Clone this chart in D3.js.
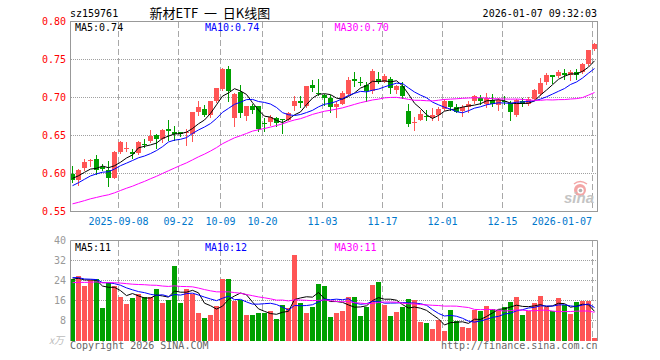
<!DOCTYPE html>
<html><head><meta charset="utf-8">
<script src="https://cdn.jsdelivr.net/npm/d3@7/dist/d3.min.js"></script>
<style>body{margin:0;background:#fff}svg{display:block}</style>
</head><body>
<svg id="chart" width="660" height="360"></svg>
<script>
// ---------- data ----------
const dates = [
"2025-08-27","2025-08-28","2025-08-29","2025-09-01","2025-09-02","2025-09-03","2025-09-04","2025-09-05",
"2025-09-08","2025-09-09","2025-09-10","2025-09-11","2025-09-12",
"2025-09-15","2025-09-16","2025-09-17","2025-09-18","2025-09-19",
"2025-09-22","2025-09-23","2025-09-24","2025-09-25","2025-09-26",
"2025-09-29","2025-09-30","2025-10-09","2025-10-10",
"2025-10-13","2025-10-14","2025-10-15","2025-10-16","2025-10-17",
"2025-10-20","2025-10-21","2025-10-22","2025-10-23","2025-10-24",
"2025-10-27","2025-10-28","2025-10-29","2025-10-30","2025-10-31",
"2025-11-03","2025-11-04","2025-11-05","2025-11-06","2025-11-07",
"2025-11-10","2025-11-11","2025-11-12","2025-11-13","2025-11-14",
"2025-11-17","2025-11-18","2025-11-19","2025-11-20","2025-11-21",
"2025-11-24","2025-11-25","2025-11-26","2025-11-27","2025-11-28",
"2025-12-01","2025-12-02","2025-12-03","2025-12-04","2025-12-05",
"2025-12-08","2025-12-09","2025-12-10","2025-12-11","2025-12-12",
"2025-12-15","2025-12-16","2025-12-17","2025-12-18","2025-12-19",
"2025-12-22","2025-12-23","2025-12-24","2025-12-25","2025-12-26",
"2025-12-29","2025-12-30","2025-12-31","2026-01-05","2026-01-06","2026-01-07"];

const open = [0.600,0.591,0.607,0.616,0.619,0.609,0.605,0.594,0.628,0.632,
0.628,0.627,0.639,0.643,0.651,0.646,0.659,0.654,0.654,0.653,
0.652,0.681,0.685,0.677,0.696,0.711,0.738,0.673,0.707,0.676,
0.689,0.689,0.666,0.668,0.673,0.672,0.671,0.689,0.695,0.689,
0.716,0.706,0.703,0.699,0.687,0.692,0.705,0.724,0.720,0.716,
0.708,0.725,0.721,0.725,0.710,0.715,0.682,0.666,0.671,0.676,
0.673,0.677,0.685,0.695,0.687,0.682,0.688,0.695,0.700,0.692,
0.697,0.690,0.696,0.693,0.677,0.695,0.692,0.698,0.705,0.720,
0.729,0.728,0.732,0.729,0.734,0.734,0.744,0.764];
const high = [0.610,0.606,0.619,0.619,0.624,0.612,0.616,0.629,0.643,0.641,
0.632,0.643,0.645,0.657,0.652,0.658,0.670,0.662,0.655,0.659,
0.681,0.695,0.690,0.696,0.713,0.739,0.742,0.706,0.717,0.689,
0.691,0.689,0.673,0.677,0.674,0.672,0.681,0.702,0.702,0.715,
0.723,0.724,0.705,0.703,0.696,0.708,0.727,0.734,0.727,0.721,
0.738,0.734,0.731,0.727,0.717,0.721,0.692,0.674,0.683,0.683,
0.686,0.687,0.698,0.695,0.691,0.690,0.695,0.703,0.703,0.706,
0.705,0.700,0.702,0.695,0.698,0.699,0.701,0.711,0.726,0.732,
0.730,0.736,0.738,0.736,0.738,0.745,0.763,0.772];
const low = [0.589,0.585,0.605,0.610,0.600,0.604,0.584,0.594,0.627,0.629,
0.620,0.626,0.635,0.642,0.634,0.641,0.644,0.644,0.649,0.638,
0.643,0.677,0.676,0.675,0.694,0.710,0.696,0.663,0.675,0.671,
0.680,0.656,0.656,0.664,0.662,0.653,0.670,0.684,0.687,0.688,
0.709,0.703,0.690,0.681,0.674,0.691,0.703,0.715,0.717,0.696,
0.706,0.719,0.720,0.706,0.706,0.699,0.663,0.657,0.670,0.670,
0.671,0.670,0.684,0.684,0.681,0.676,0.681,0.693,0.691,0.687,
0.689,0.684,0.692,0.671,0.676,0.689,0.690,0.697,0.703,0.718,
0.719,0.727,0.724,0.723,0.725,0.732,0.743,0.763];
const close = [0.591,0.605,0.615,0.618,0.605,0.606,0.594,0.628,0.641,0.633,
0.626,0.641,0.638,0.650,0.645,0.657,0.656,0.652,0.652,0.655,
0.681,0.687,0.677,0.695,0.712,0.738,0.708,0.705,0.680,0.689,
0.684,0.659,0.665,0.674,0.667,0.670,0.680,0.695,0.693,0.715,
0.713,0.705,0.699,0.687,0.692,0.706,0.723,0.722,0.719,0.708,
0.735,0.720,0.728,0.712,0.715,0.702,0.665,0.668,0.678,0.674,
0.677,0.685,0.696,0.687,0.681,0.688,0.692,0.702,0.696,0.700,
0.691,0.697,0.694,0.681,0.697,0.692,0.698,0.710,0.719,0.730,
0.727,0.734,0.730,0.734,0.730,0.744,0.762,0.771];
// volume, 万手
const volume = [24.7,25.7,21.7,24.1,24.5,12.9,23.2,21.7,17.5,14.5,
17.0,18.5,17.5,17.5,20.5,15.1,16.1,29.8,15.1,20.5,
18.8,11.1,9.1,10.1,13.7,24.6,24.6,16.0,16.1,10.1,
10.1,11.0,11.0,11.7,8.6,14.1,13.1,34.4,14.9,11.0,
13.3,22.5,21.7,9.4,11.0,11.7,17.3,17.3,9.8,13.3,
22.1,23.3,14.1,9.8,11.3,13.3,16.5,16.1,7.4,7.0,
4.6,8.2,3.8,12.2,7.8,5.4,5.0,12.2,11.7,13.7,
12.5,12.2,13.3,15.3,17.3,10.1,11.7,14.9,17.7,13.3,
11.7,16.9,14.1,10.6,15.3,15.7,15.7,1.0];
// sessions before the visible window (estimated from where the MA lines enter)
const earlierCloses = [0.545,0.548,0.546,0.550,0.549,0.547,0.551,0.548,
0.544,0.546,0.543,0.547,0.545,0.548,0.546,0.549,0.545,0.547,
0.556,0.562,0.566,0.570,0.574,0.578,0.584,0.588,0.592,0.597,0.600];
const earlierVolumes = [21,23,22,20,24,21,23,22,21,24,22,20,23,22,24,21,22,23,22,22,
26,27,25,26,25,24,25,24,25];

const priceTicks = [0.55,0.60,0.65,0.70,0.75,0.80];
const priceTickLabels = ["0.55","0.60","0.65","0.70","0.75","0.80"];
const volumeTicks = [8,16,24,32,40];
const tickDates = ["2025-09-08","2025-09-22","2025-10-09","2025-10-20","2025-11-03","2025-11-17","2025-12-01","2025-12-15","2026-01-07"];
const tickLabels = ["2025-09-08","09-22","10-09","10-20","11-03","11-17","12-01","12-15","2026-01-07"];
const maPeriods = [5,10,30];
const priceMaLabels = ["MA5:0.74","MA10:0.74","MA30:0.70"];
const volumeMaLabels = ["MA5:11","MA10:12","MA30:11"];
const code = "sz159761";
const title = "新材ETF\u00a0\u00a0一\u00a0\u00a0日K线图";
const stamp = "2026-01-07 09:32:03";

// ---------- drawing ----------
const UP = "#ff5555", DOWN = "#00a000";
const maColors = ["#000000","#0000ff","#ff00ff"];
const mono = "'DejaVu Sans Mono', monospace";
const svg = d3.select("#chart");

const x = d3.scaleBand().domain(dates).range([70, 598]).padding(0);
const yP = d3.scaleLinear().domain([0.55, 0.80]).range([211.5, 21.5]);
const yV = d3.scaleLinear().domain([0, 40]).range([340.5, 240.5]);
const cx = d => x(d) + 2.5;

function movingAvg(earlier, series, n) {
  const all = earlier.concat(series), off = earlier.length;
  return series.map((_, i) => d3.mean(all.slice(off + i - n + 1, off + i + 1)));
}

const bars = dates.map((d, i) => ({d, o: open[i], h: high[i], l: low[i], c: close[i], v: volume[i],
  up: close[i] >= open[i]}));

// grids
const grid = svg.append("g");
grid.selectAll(".hp").data(priceTicks.slice(1, -1)).join("line")
  .attr("x1", 71).attr("x2", 597).attr("y1", d => yP(d)).attr("y2", d => yP(d))
  .attr("stroke", "#a0a0a0").attr("stroke-dasharray", "1,1");
grid.selectAll(".hv").data(volumeTicks.slice(0, -1)).join("line")
  .attr("x1", 71).attr("x2", 597).attr("y1", d => yV(d)).attr("y2", d => yV(d))
  .attr("stroke", "#a0a0a0").attr("stroke-dasharray", "1,1");
grid.selectAll(".vp").data(tickDates).join("line")
  .attr("x1", d => x(d) + 0.5).attr("x2", d => x(d) + 0.5).attr("y1", 22).attr("y2", 211)
  .attr("stroke", "#a8a8a8").attr("stroke-dasharray", "6,3");
grid.selectAll(".vv").data(tickDates).join("line")
  .attr("x1", d => x(d) + 0.5).attr("x2", d => x(d) + 0.5).attr("y1", 241).attr("y2", 341)
  .attr("stroke", "#a8a8a8").attr("stroke-dasharray", "6,3");

// sina watermark
const wm = svg.append("g");
wm.append("circle").attr("cx", 580).attr("cy", 190).attr("r", 6).attr("fill", "#f3a5a5");
wm.append("circle").attr("cx", 580.5).attr("cy", 190.5).attr("r", 3.2).attr("fill", "#fff");
wm.append("circle").attr("cx", 580.5).attr("cy", 190.5).attr("r", 1.8).attr("fill", "#b0b0b0");
wm.append("path").attr("d", "M574,184 Q580,179 587,184").attr("fill", "none").attr("stroke", "#f3a5a5").attr("stroke-width", 1.5);
wm.append("text").attr("x", 564).attr("y", 203).text("sina")
  .attr("font-family", "'Liberation Sans', Arial, sans-serif").attr("font-weight", "bold")
  .attr("font-style", "italic").attr("font-size", 15).attr("fill", "#c4c4c4");

// candles
const cg = svg.append("g");
cg.selectAll("line").data(bars).join("line")
  .attr("x1", b => cx(b.d)).attr("x2", b => cx(b.d))
  .attr("y1", b => Math.round(yP(b.h))).attr("y2", b => Math.round(yP(b.l)) + 1)
  .attr("stroke", b => b.up ? UP : DOWN);
cg.selectAll("rect").data(bars).join("rect")
  .attr("x", b => x(b.d)).attr("width", x.bandwidth() - 1)
  .attr("y", b => Math.round(yP(Math.max(b.o, b.c))))
  .attr("height", b => Math.max(1, Math.round(yP(Math.min(b.o, b.c))) - Math.round(yP(Math.max(b.o, b.c)))))
  .attr("fill", b => b.up ? UP : DOWN);

// volume bars
svg.append("g").selectAll("rect").data(bars).join("rect")
  .attr("x", b => x(b.d)).attr("width", x.bandwidth() - 1)
  .attr("y", b => Math.round(yV(b.v))).attr("height", b => 341 - Math.round(yV(b.v)))
  .attr("fill", b => b.up ? UP : DOWN);

// moving averages
maPeriods.forEach((n, j) => {
  const mp = movingAvg(earlierCloses, close, n);
  const mv = movingAvg(earlierVolumes, volume, n);
  svg.append("path").datum(mp)
    .attr("d", d3.line().x((v, i) => cx(dates[i])).y(v => yP(v)))
    .attr("fill", "none").attr("stroke", maColors[j]).attr("stroke-width", 1);
  svg.append("path").datum(mv)
    .attr("d", d3.line().x((v, i) => cx(dates[i])).y(v => yV(v)))
    .attr("fill", "none").attr("stroke", maColors[j]).attr("stroke-width", 1);
});

// frames
svg.append("rect").attr("x", 70.5).attr("y", 21.5).attr("width", 527).attr("height", 190)
  .attr("fill", "none").attr("stroke", "#999");
svg.append("path").attr("d", "M70.5,341V240.5H597.5V341").attr("fill", "none").attr("stroke", "#999");

// axis labels
const txt = svg.append("g").attr("font-family", mono).attr("font-size", 10);
txt.selectAll(".pl").data(priceTicks).join("text")
  .attr("x", 66).attr("y", d => yP(d) + 3.5).attr("text-anchor", "end")
  .attr("fill", "#ff0000").text((d, i) => priceTickLabels[i]);
txt.selectAll(".vl").data(volumeTicks).join("text")
  .attr("x", 66).attr("y", d => yV(d) + 3.5).attr("text-anchor", "end")
  .attr("fill", "#999").text(d => d);
txt.append("text").attr("x", 64).attr("y", 344).attr("text-anchor", "end").attr("fill", "#bbb")
  .attr("font-family", "'Noto Sans CJK SC', sans-serif").attr("font-style", "italic").text("x万");
txt.selectAll(".dl").data(tickDates).join("text")
  .attr("x", (d, i) => i === tickDates.length - 1 ? x(d) : x(d) + 0.5)
  .attr("y", 225).attr("text-anchor", (d, i) => i === tickDates.length - 1 ? "end" : "middle")
  .attr("fill", "#0077cc").text((d, i) => tickLabels[i]);

// MA legends
const legX = [75, 205, 334.5];
priceMaLabels.forEach((t, j) => txt.append("text").attr("x", legX[j]).attr("y", 30.5).attr("fill", maColors[j]).text(t));
volumeMaLabels.forEach((t, j) => txt.append("text").attr("x", legX[j]).attr("y", 251).attr("fill", maColors[j]).text(t));

// header & footer
txt.append("text").attr("x", 70).attr("y", 17).attr("fill", "#000").text(code);
svg.append("text").attr("x", 149.5).attr("y", 17.5).attr("fill", "#000")
  .attr("font-family", "'Noto Sans CJK SC', sans-serif").attr("font-size", 13).text(title);
txt.append("text").attr("x", 597).attr("y", 17).attr("text-anchor", "end").attr("fill", "#000").text(stamp);
txt.append("text").attr("x", 70).attr("y", 349).attr("fill", "#666").text("Copyright 2026 SINA.COM");
txt.append("text").attr("x", 597.5).attr("y", 349).attr("text-anchor", "end").attr("fill", "#666").text("http://finance.sina.com.cn");
</script>
</body></html>
